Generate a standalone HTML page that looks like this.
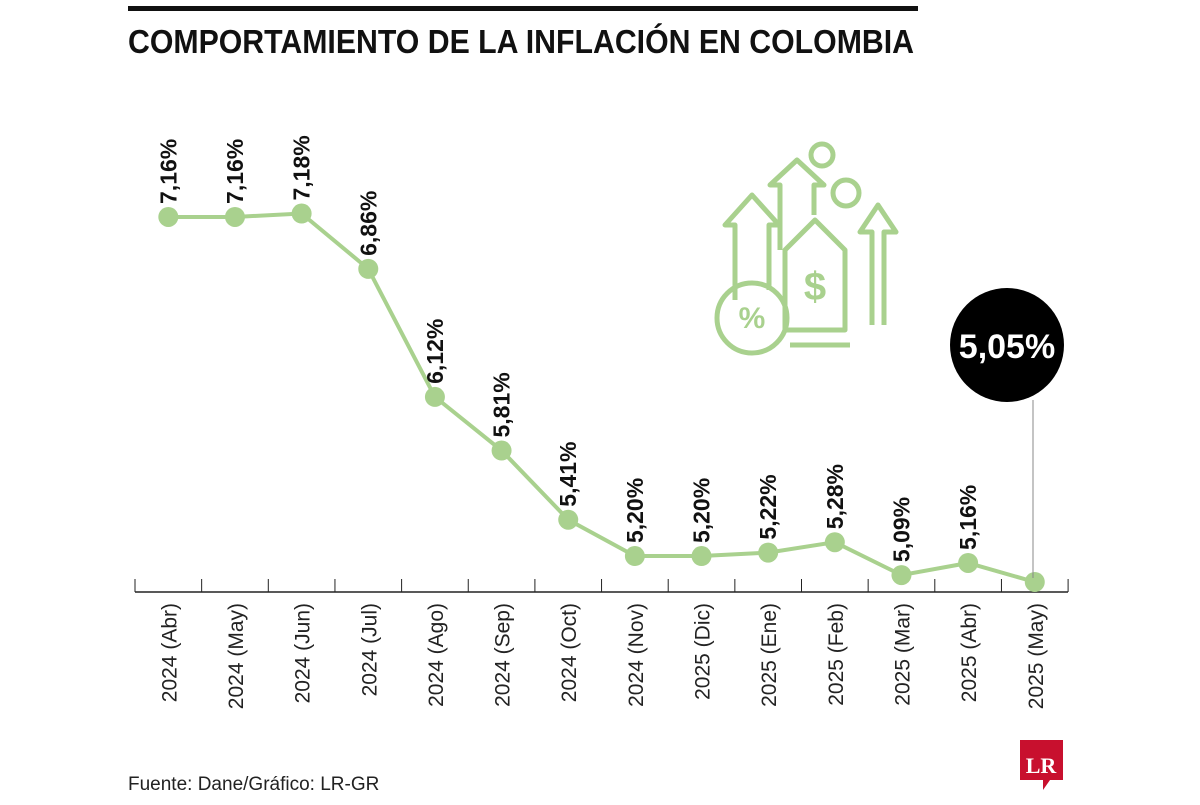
<!DOCTYPE html>
<html><head><meta charset="utf-8"><style>
body{margin:0;background:#fff;width:1200px;height:800px;overflow:hidden;font-family:"Liberation Sans Narrow","Liberation Sans",sans-serif}
</style></head><body>
<svg width="1200" height="800" viewBox="0 0 1200 800">
<rect x="128" y="6" width="790" height="5" fill="#111"/>
<text x="128" y="53" font-size="33" font-weight="bold" fill="#111" textLength="786" lengthAdjust="spacingAndGlyphs">COMPORTAMIENTO DE LA INFLACIÓN EN COLOMBIA</text>
<g id="icon" fill="none" stroke="#a9d18e" stroke-width="5" stroke-linejoin="round">
<path d="M735 300 V225 H725 L752 195 L779 225 H769 V290"/>
<path d="M780 250 V185 H770 L797 160 L824 185 H814 V215"/>
<path d="M872 325 V232 H860 L878 205 L896 232 H884 V325"/>
<path d="M785 330 V250 L815 220 L845 250 V330 Z"/>
<circle cx="822" cy="155" r="11"/>
<circle cx="846" cy="193" r="13"/>
<circle cx="752" cy="318" r="35"/>
<text x="752" y="328" font-size="30" fill="#a9d18e" stroke="none" text-anchor="middle" font-weight="bold">%</text>
<text x="815" y="300" font-size="40" fill="#a9d18e" stroke="none" text-anchor="middle" font-weight="bold">$</text>
<path d="M790 345 H850"/>
</g>
<line x1="135" y1="592" x2="1068" y2="592" stroke="#222" stroke-width="1.5"/>
<g id="ticks"></g>
<g id="series"></g>
<g id="labels"></g>
<line x1="1033" y1="400" x2="1033" y2="578" stroke="#888" stroke-width="1"/>
<circle cx="1007" cy="345" r="57" fill="#000"/>
<text x="1007" y="358" font-size="34" font-weight="bold" fill="#fff" text-anchor="middle">5,05%</text>
<text x="128" y="790" font-size="19" fill="#222">Fuente: Dane/Gráfico: LR-GR</text>
<g><path d="M1020 740 H1063 V780 H1050 L1043 790 L1043 780 H1020 Z" fill="#c8102e"/>
<text x="1041" y="773" font-size="22" font-weight="bold" fill="#fff" text-anchor="middle" font-family="Liberation Serif,serif">LR</text></g>
</svg>
<script>
const categories=["2024 (Abr)","2024 (May)","2024 (Jun)","2024 (Jul)","2024 (Ago)","2024 (Sep)","2024 (Oct)","2024 (Nov)","2025 (Dic)","2025 (Ene)","2025 (Feb)","2025 (Mar)","2025 (Abr)","2025 (May)"];
const values=[7.16,7.16,7.18,6.86,6.12,5.81,5.41,5.20,5.20,5.22,5.28,5.09,5.16,5.05];
const valueLabels=["7,16%","7,16%","7,18%","6,86%","6,12%","5,81%","5,41%","5,20%","5,20%","5,22%","5,28%","5,09%","5,16%",""];
const NS="http://www.w3.org/2000/svg";
const step=66.65,x0=135;
const xs=i=>x0+step*(i+0.5);
const ys=v=>582-(v-5.05)*173;
const mk=(t,a,p)=>{const e=document.createElementNS(NS,t);for(const k in a)e.setAttribute(k,a[k]);p.appendChild(e);return e;};
const T=document.getElementById('ticks'),S=document.getElementById('series'),L=document.getElementById('labels');
for(let i=0;i<=categories.length;i++){const t=mk('line',{x1:x0+step*i,x2:x0+step*i,y1:579,y2:592,stroke:'#222','stroke-width':1},T);

}
const pl=mk('polyline',{points:values.map((v,i)=>xs(i)+','+ys(v)).join(' '),fill:'none',stroke:'#a9d18e','stroke-width':4},S);


values.forEach((v,i)=>{
const c=mk('circle',{cx:xs(i),cy:ys(v),r:10,fill:'#a9d18e'},S);


if(valueLabels[i]){const x=xs(i)+8,y=ys(v)-13;
const t=mk('text',{x:x,y:y,transform:`rotate(-90 ${x} ${y})`,'font-size':23,'font-weight':'bold',fill:'#111'},L);
t.textContent=valueLabels[i];

}
const ax=xs(i)+8,ay=603;
const a=mk('text',{x:ax,y:ay,transform:`rotate(-90 ${ax} ${ay})`,'font-size':21,fill:'#222','text-anchor':'end'},L);
a.textContent=categories[i];


});
</script>
</body></html>
